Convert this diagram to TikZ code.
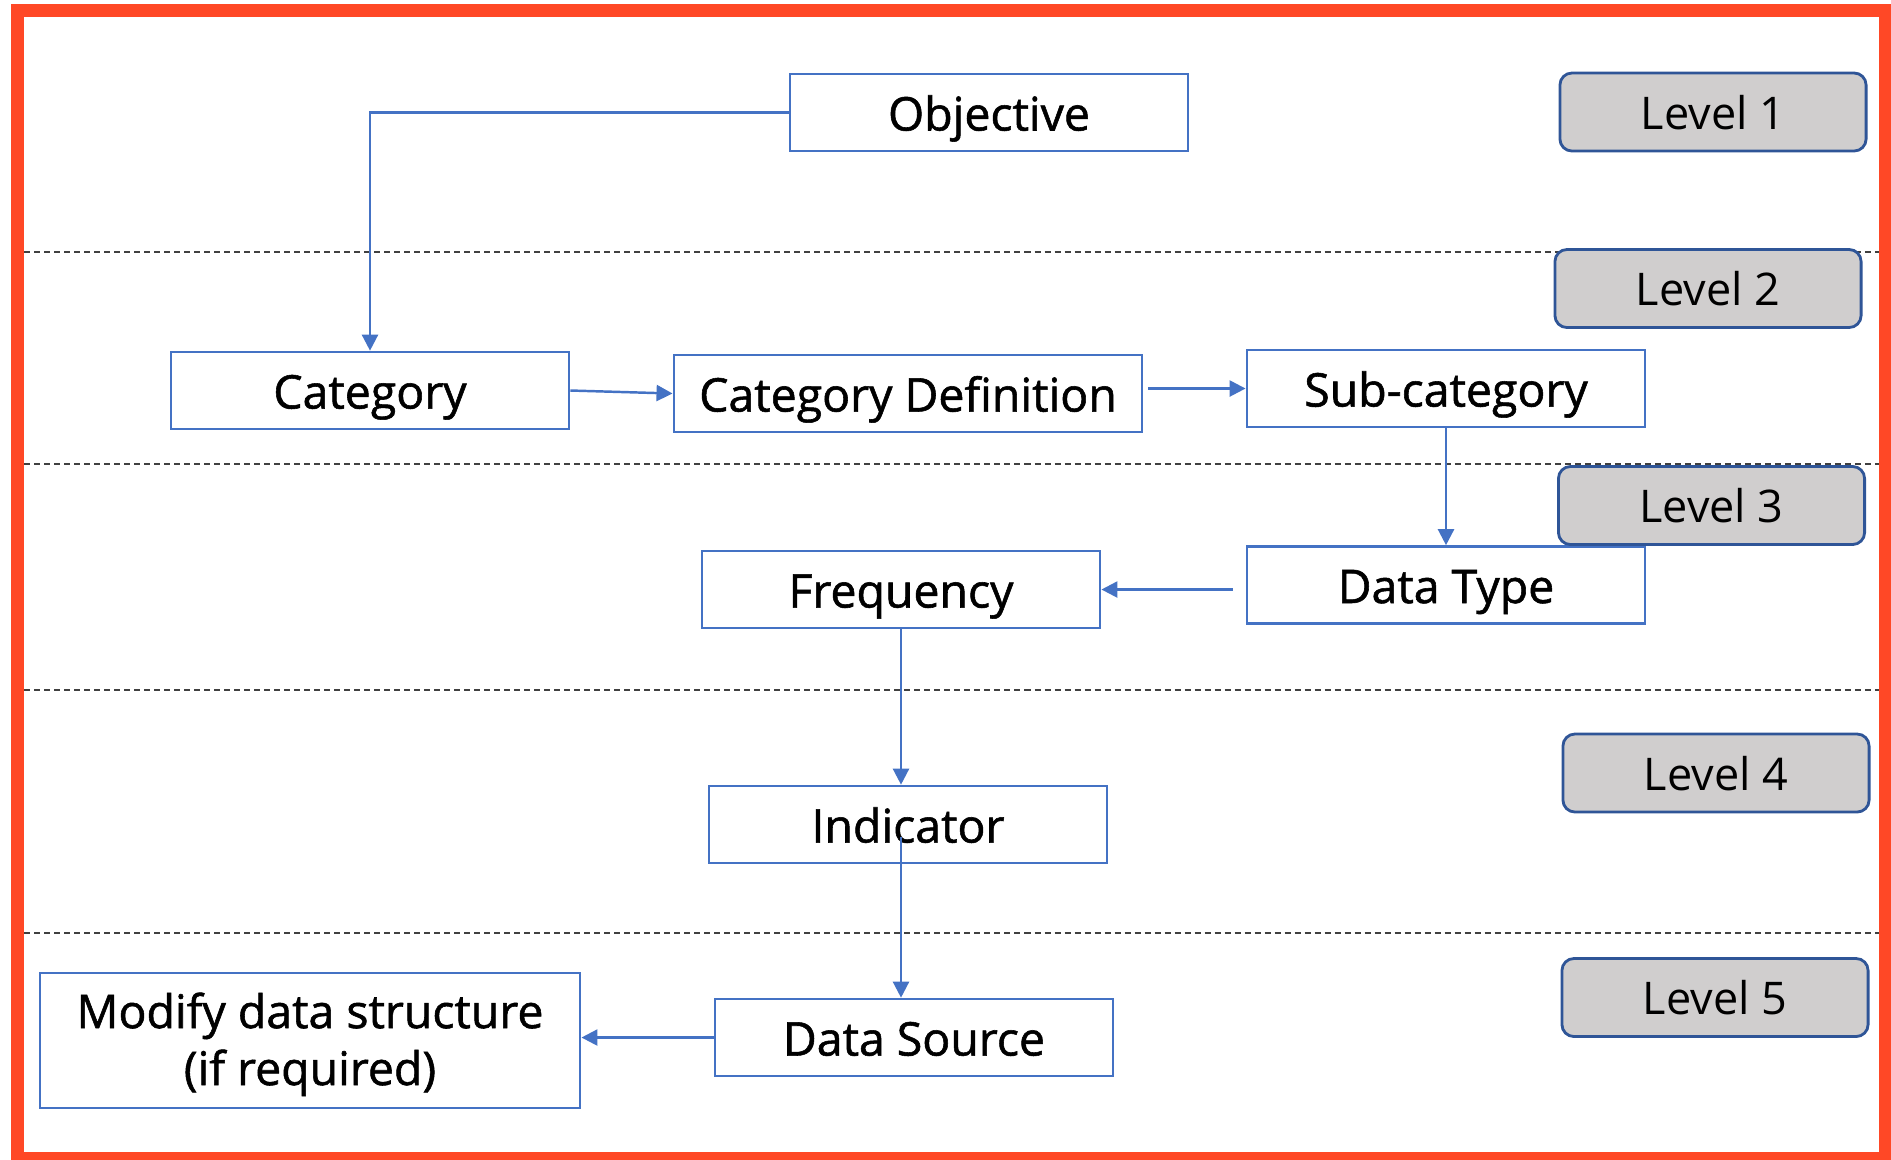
\documentclass[tikz,border=0pt]{standalone}
\usepackage{fontspec}
\setmainfont{Open Sans}
\newfontfamily\boxfont[FakeBold=1.2]{Open Sans}
\usetikzlibrary{arrows.meta,positioning}
\definecolor{boxblue}{RGB}{68,114,196}
\definecolor{lvlblue}{RGB}{47,85,151}
\definecolor{lvlgray}{RGB}{208,206,206}
\definecolor{framered}{RGB}{255,72,38}
\tikzset{
  box/.style={draw=boxblue,line width=0.75pt,minimum width=3.98cm,minimum height=0.77cm,
    inner sep=0pt,text height=0.47cm,text depth=0.11cm,
    font=\boxfont\fontsize{13.2}{16.2}\selectfont},
  level/.style={draw=lvlblue,fill=lvlgray,rounded corners=0.12cm,line width=0.8pt,
    minimum width=3.06cm,minimum height=0.78cm,inner sep=0pt,text height=0.44cm,text depth=0.1cm,
    font=\fontsize{12.8}{15}\selectfont},
  flow/.style={draw=boxblue,line width=0.7pt,-{Triangle[length=0.16cm,width=0.16cm]}},
  sep/.style={dash pattern=on 0.06cm off 0.04cm,line width=0.4pt,black!75}
}
\begin{document}
\begin{tikzpicture}[x=0.01cm,y=-0.01cm]
  \useasboundingbox (0,0) rectangle (1891,1159);

  % level separators
  \draw[sep] (14,252) -- (1891,252);
  \draw[sep] (14,464) -- (1891,464);
  \draw[sep] (14,690) -- (1891,690);
  \draw[sep] (14,933) -- (1891,933);

  % boxes
  \node[box] (obj) at (989,112.5) {Objective};
  \node[box] (cat) at (370,390.5) {Category};
  \node[box,minimum width=4.68cm] (catdef) at (908,393.5) {Category Definition};
  \node[box] (subcat) at (1446,388.5) {Sub-category};
  \node[box] (dtype) at (1446,585) {Data Type};
  \node[box] (freq) at (901,589.5) {Frequency};
  \node[box] (ind) at (908,824.5) {Indicator};
  \node[box] (dsrc) at (914,1037.5) {Data Source};
  \node[box,minimum width=5.40cm,minimum height=1.35cm,align=center,
    text height=0.93cm,text depth=0.04cm] (mod) at (310,1040.5)
    {Modify data structure\\(if required)};

  % level labels
  \node[level] (lvla) at (1713,112) {Level 1};
  \node[level] (lvlb) at (1708,288.5) {Level 2};
  \node[level] (lvlc) at (1711.5,505.5) {Level 3};
  \node[level] (lvld) at (1716,773) {Level 4};
  \node[level] (lvle) at (1715,997.5) {Level 5};

  % connectors
  \coordinate (cdout) at ([xshift=0.05cm]catdef.east);
  \coordinate (dtout) at ([xshift=-0.13cm]dtype.west);
  \coordinate (indout) at ([yshift=-0.12cm]ind.center);
  \draw[flow] (obj.west) -| (cat.north);
  \draw[flow] (cat.east) -- (catdef.west);
  \draw[flow] (cdout |- subcat.west) -- (subcat.west);
  \draw[flow] (subcat.south) -- (dtype.north);
  \draw[flow] (dtout |- freq.east) -- (freq.east);
  \draw[flow] (freq.south) -- (freq.south |- ind.north);
  \draw[flow] (indout -| freq.south) -- (freq.south |- dsrc.north);
  \draw[flow] (dsrc.west) -- (dsrc.west -| mod.east);

  % outer frame
  \draw[framered,line width=0.13cm] (17.5,10.5) rectangle (1885.5,1158.5);
\end{tikzpicture}
\end{document}
